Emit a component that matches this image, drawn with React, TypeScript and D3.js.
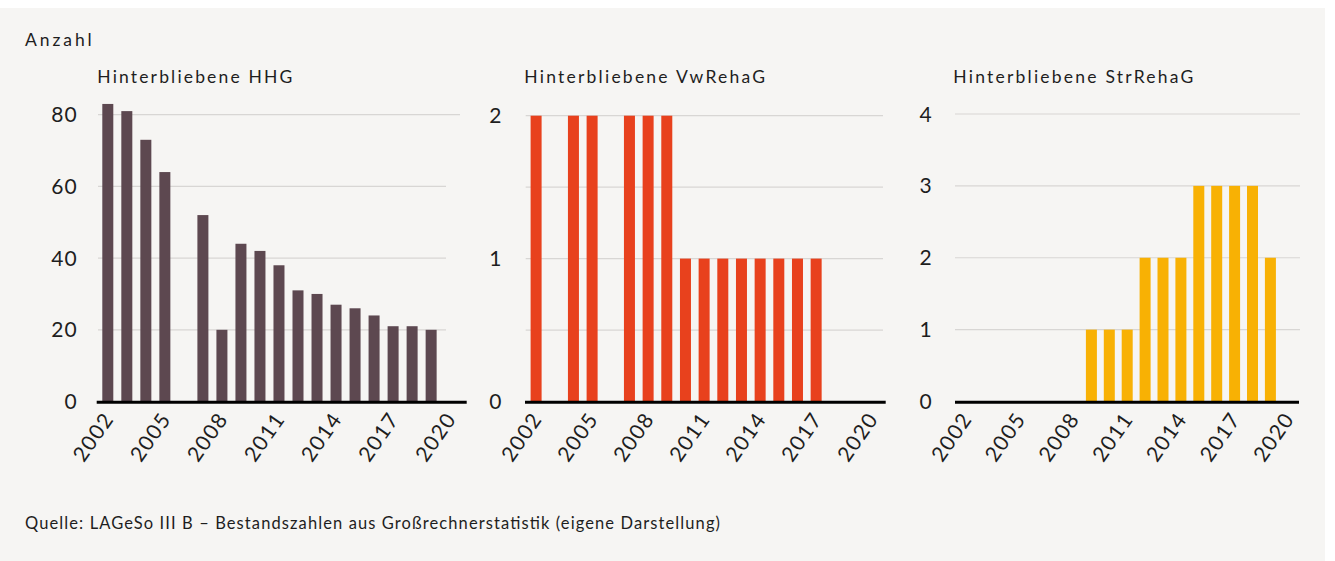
import React from "react";
import * as d3 from "d3";

const years: number[] = [2002, 2003, 2004, 2005, 2006, 2007, 2008, 2009, 2010, 2011, 2012, 2013, 2014, 2015, 2016, 2017, 2018, 2019, 2020];
const xTickYears: number[] = [2002, 2005, 2008, 2011, 2014, 2017, 2020];

const hhgValues: (number | null)[] = [83, 81, 73, 64, null, 52, 20, 44, 42, 38, 31, 30, 27, 26, 24, 21, 21, 20, null];
const vwRehaGValues: (number | null)[] = [2, null, 2, 2, null, 2, 2, 2, 1, 1, 1, 1, 1, 1, 1, 1, null, null, null];
const strRehaGValues: (number | null)[] = [null, null, null, null, null, null, null, 1, 1, 1, 2, 2, 2, 3, 3, 3, 3, 2, null];

const hhgGrid: number[] = [20, 40, 60, 80];
const hhgLabels: number[] = [0, 20, 40, 60, 80];
const vwGrid: number[] = [0.5, 1, 1.5, 2];
const vwLabels: number[] = [0, 1, 2];
const strGrid: number[] = [1, 2, 3, 4];
const strLabels: number[] = [0, 1, 2, 3, 4];

const titles: string[] = ["Hinterbliebene HHG", "Hinterbliebene VwRehaG", "Hinterbliebene StrRehaG"];
const yAxisTitle = "Anzahl";
const sourceText = "Quelle: LAGeSo III B – Bestandszahlen aus Großrechnerstatistik (eigene Darstellung)";

const FONT = "Lato, 'Open Sans', sans-serif";
const TEXT = "#1e1e1e";

type PanelCfg = {
  title: string;
  values: (number | null)[];
  color: string;
  yMax: number;
  yTop: number;
  grid: number[];
  labels: number[];
  axisX0: number;
  axisX1: number;
  step: number;
  gridX0: number;
  gridX1: number;
  topGridX1: number;
  titleX: number;
  titleW: number;
  labelRight: number;
};

const panels: PanelCfg[] = [
  { title: titles[0], values: hhgValues, color: "#5d4850", yMax: 80, yTop: 114.7, grid: hhgGrid, labels: hhgLabels,
    axisX0: 96.7, axisX1: 466.7, step: 19.02, gridX0: 98, gridX1: 446, topGridX1: 460, titleX: 97.3, titleW: 195, labelRight: 78 },
  { title: titles[1], values: vwRehaGValues, color: "#e8411d", yMax: 2, yTop: 115.7, grid: vwGrid, labels: vwLabels,
    axisX0: 525, axisX1: 885.7, step: 18.67, gridX0: 525.7, gridX1: 883, topGridX1: 883, titleX: 524.3, titleW: 240.7, labelRight: 502.7 },
  { title: titles[2], values: strRehaGValues, color: "#f8b104", yMax: 4, yTop: 114, grid: strGrid, labels: strLabels,
    axisX0: 955, axisX1: 1299, step: 17.9, gridX0: 955, gridX1: 1300, topGridX1: 1300, titleX: 953.3, titleW: 240, labelRight: 933 },
];

const Y0 = 401.5;

function Panel({ cfg }: { cfg: PanelCfg }) {
  const c0 = cfg.axisX0 + 11.1;
  const r0 = c0 - cfg.step / 2;
  const pad = 1 - 11 / cfg.step;
  const x = d3
    .scaleBand<number>()
    .domain(years)
    .range([r0, r0 + years.length * cfg.step])
    .paddingInner(pad)
    .paddingOuter(pad / 2);
  const y = d3.scaleLinear().domain([0, cfg.yMax]).range([Y0, cfg.yTop]);
  const topTick = cfg.grid[cfg.grid.length - 1];

  return (
    <g>
      <text x={cfg.titleX} y={82.5} fontFamily={FONT} fontSize={17.5} fill={TEXT}
        textLength={cfg.titleW} lengthAdjust="spacing">{cfg.title}</text>
      {cfg.grid.map((g) => (
        <line key={"g" + g} x1={cfg.gridX0} x2={g === topTick ? cfg.topGridX1 : cfg.gridX1}
          y1={y(g)} y2={y(g)} stroke="#d8d6d4" strokeWidth={1.2} />
      ))}
      {cfg.labels.map((l) => (
        <text key={"l" + l} x={cfg.labelRight} y={y(l)} dy="0.36em" textAnchor="end"
          fontFamily={FONT} fontSize={21} letterSpacing={1.2} fill={TEXT}>{l}</text>
      ))}
      {years.map((yr, i) => {
        const v = cfg.values[i];
        if (v == null) return null;
        return (
          <rect key={"b" + yr} x={x(yr)} y={y(v)} width={x.bandwidth()} height={Y0 - y(v)} fill={cfg.color} />
        );
      })}
      <line x1={cfg.axisX0} x2={cfg.axisX1} y1={Y0 + 0.8} y2={Y0 + 0.8} stroke="#000" strokeWidth={3} />
      {xTickYears.map((yr) => {
        const cx = (x(yr) as number) + x.bandwidth() / 2;
        return (
          <text key={"x" + yr} transform={`translate(${cx + 7},${419}) rotate(-55)`} textAnchor="end"
            fontFamily={FONT} fontSize={21} letterSpacing={1.3} fill={TEXT}>{yr}</text>
        );
      })}
    </g>
  );
}

export default function App() {
  return (
    <div style={{ position: "absolute", left: 0, top: 0 }}>
      <svg width={1335} height={561} style={{ display: "block" }}>
        <rect x={0} y={0} width={1335} height={561} fill="#ffffff" />
        <rect x={0} y={8} width={1325} height={553} fill="#f6f5f3" />
        <text x={25} y={46} fontFamily={FONT} fontSize={17.5} fill={TEXT} textLength={66.7} lengthAdjust="spacing">{yAxisTitle}</text>
        {panels.map((p) => (
          <Panel key={p.title} cfg={p} />
        ))}
        <text x={25} y={528.5} fontFamily={FONT} fontSize={16.5} fill={TEXT} textLength={695} lengthAdjust="spacing">{sourceText}</text>
      </svg>
    </div>
  );
}
